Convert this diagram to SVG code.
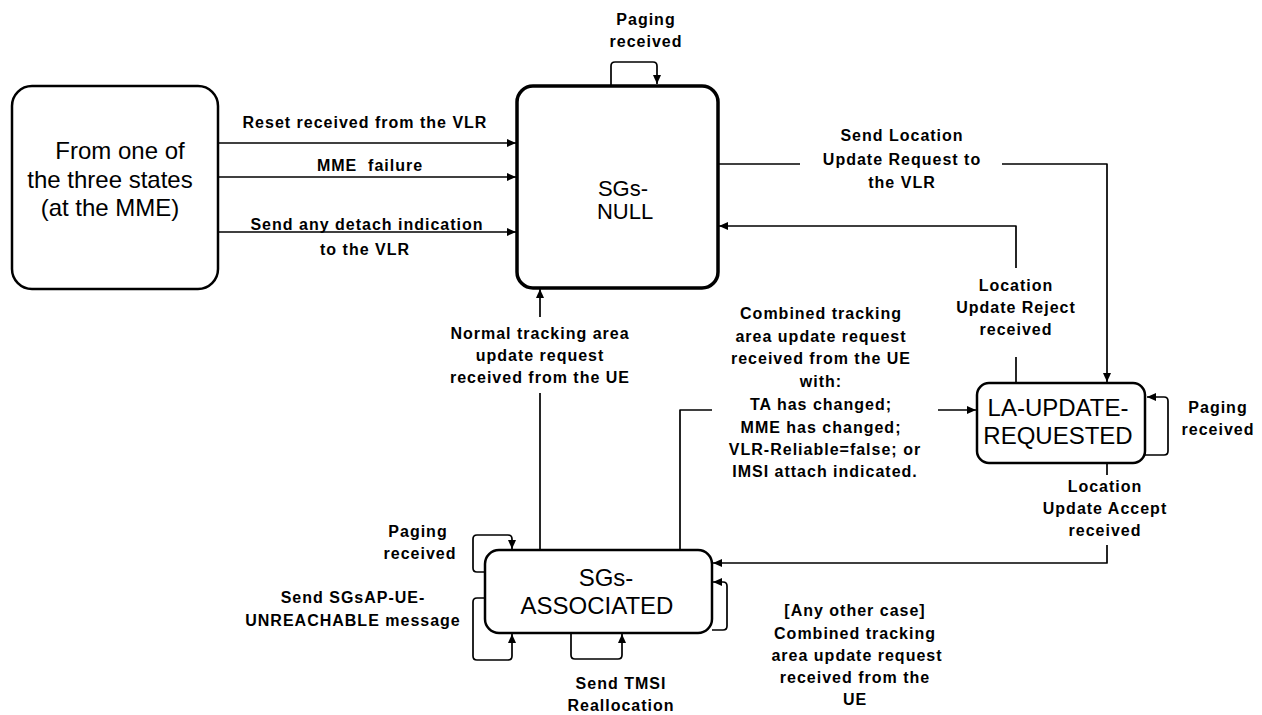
<svg xmlns="http://www.w3.org/2000/svg" width="1262" height="715" viewBox="0 0 1262 715">
<defs>
<style>
.box{fill:#fff;stroke:#000;stroke-width:2.5}
.thick{stroke-width:3.5}
.c{fill:none;stroke:#000;stroke-width:1.7;stroke-linejoin:round}
.l{font-family:"Liberation Sans",Arial,sans-serif;font-weight:bold;font-size:16px;letter-spacing:1px;text-anchor:middle;fill:#000;white-space:pre}
.n{font-family:"Liberation Sans",Arial,sans-serif;font-size:24px;text-anchor:middle;fill:#000}
</style>
<marker id="a" markerWidth="10" markerHeight="8" refX="9" refY="4" orient="auto" markerUnits="userSpaceOnUse">
<path d="M0,0 L9,4 L0,8 Z" fill="#000"/>
</marker>
</defs>
<rect width="1262" height="715" fill="#fff"/>

<g id="from-states">
<rect class="box" x="12" y="86" width="206" height="203" rx="20"/>
<text class="n" x="120" y="159">From one of</text>
<text class="n" x="110" y="188">the three states</text>
<text class="n" x="110" y="216">(at the MME)</text>
</g>

<g id="sgs-null">
<rect class="box thick" x="517" y="86" width="201" height="202" rx="16"/>
<text class="n" x="623" y="196" style="font-size:22px">SGs-</text>
<text class="n" x="625" y="219" style="font-size:22px">NULL</text>
</g>

<g id="la-update-requested">
<rect class="box" x="977" y="383" width="168" height="80" rx="12"/>
<text class="n" x="1058" y="416">LA-UPDATE-</text>
<text class="n" x="1058" y="444">REQUESTED</text>
</g>

<g id="sgs-associated">
<rect class="box" x="485" y="550" width="227" height="83" rx="14"/>
<text class="n" x="606" y="586">SGs-</text>
<text class="n" x="597" y="614">ASSOCIATED</text>
</g>

<g id="connectors">
<path class="c" d="M218,143 H516" marker-end="url(#a)"/>
<path class="c" d="M218,177 H516" marker-end="url(#a)"/>
<path class="c" d="M218,232 H516" marker-end="url(#a)"/>
<path class="c" d="M611,85 V66 Q611,62 615,62 H653 Q657,62 657,66 V84" marker-end="url(#a)"/>
<path class="c" d="M719,164 H800"/>
<path class="c" d="M1002,164 H1107 V382" marker-end="url(#a)"/>
<path class="c" d="M1016,268 V226 H719" marker-end="url(#a)"/>
<path class="c" d="M1016,383 V357"/>
<path class="c" d="M680,550 V410 H712"/>
<path class="c" d="M938,410 H976" marker-end="url(#a)"/>
<path class="c" d="M1145,455 H1164 Q1168,455 1168,451 V401 Q1168,397 1164,397 H1147" marker-end="url(#a)"/>
<path class="c" d="M1107,463 V475"/>
<path class="c" d="M1107,545 V563 H713" marker-end="url(#a)"/>
<path class="c" d="M540,550 V393"/>
<path class="c" d="M540,317 V289" marker-end="url(#a)"/>
<path class="c" d="M485,572 H477 Q473,572 473,568 V539 Q473,535 477,535 H508 Q512,535 512,539 V549" marker-end="url(#a)"/>
<path class="c" d="M485,598 H477 Q473,598 473,602 V656 Q473,660 477,660 H508 Q512,660 512,656 V634" marker-end="url(#a)"/>
<path class="c" d="M571,633 V655 Q571,659 575,659 H618 Q622,659 622,655 V634" marker-end="url(#a)"/>
<path class="c" d="M712,630 H723 Q727,630 727,626 V586 Q727,582 723,582 H713" marker-end="url(#a)"/>
</g>

<g id="labels">
<text class="l" x="646" y="25">Paging</text>
<text class="l" x="646" y="47">received</text>
<text class="l" x="365" y="128">Reset received from the VLR</text>
<text class="l" x="370" y="171">MME  failure</text>
<text class="l" x="367" y="230">Send any detach indication</text>
<text class="l" x="365" y="255">to the VLR</text>
<text class="l" x="902" y="141">Send Location</text>
<text class="l" x="902" y="165">Update Request to</text>
<text class="l" x="902" y="188">the VLR</text>
<text class="l" x="1016" y="291">Location</text>
<text class="l" x="1016" y="313">Update Reject</text>
<text class="l" x="1016" y="335">received</text>
<text class="l" x="821" y="319">Combined tracking</text>
<text class="l" x="821" y="342">area update request</text>
<text class="l" x="821" y="364">received from the UE</text>
<text class="l" x="821" y="387">with:</text>
<text class="l" x="821" y="410">TA has changed;</text>
<text class="l" x="821" y="433">MME has changed;</text>
<text class="l" x="825" y="455">VLR-Reliable=false; or</text>
<text class="l" x="825" y="477">IMSI attach indicated.</text>
<text class="l" x="1218" y="413">Paging</text>
<text class="l" x="1218" y="435">received</text>
<text class="l" x="1105" y="492">Location</text>
<text class="l" x="1105" y="514">Update Accept</text>
<text class="l" x="1105" y="536">received</text>
<text class="l" x="540" y="339">Normal tracking area</text>
<text class="l" x="540" y="361">update request</text>
<text class="l" x="540" y="383">received from the UE</text>
<text class="l" x="418" y="537">Paging</text>
<text class="l" x="420" y="559">received</text>
<text class="l" x="353" y="603">Send SGsAP-UE-</text>
<text class="l" x="353" y="626">UNREACHABLE message</text>
<text class="l" x="621" y="689">Send TMSI</text>
<text class="l" x="621" y="711">Reallocation</text>
<text class="l" x="855" y="616">[Any other case]</text>
<text class="l" x="855" y="639">Combined tracking</text>
<text class="l" x="857" y="661">area update request</text>
<text class="l" x="855" y="683">received from the</text>
<text class="l" x="855" y="705">UE</text>
</g>
</svg>
